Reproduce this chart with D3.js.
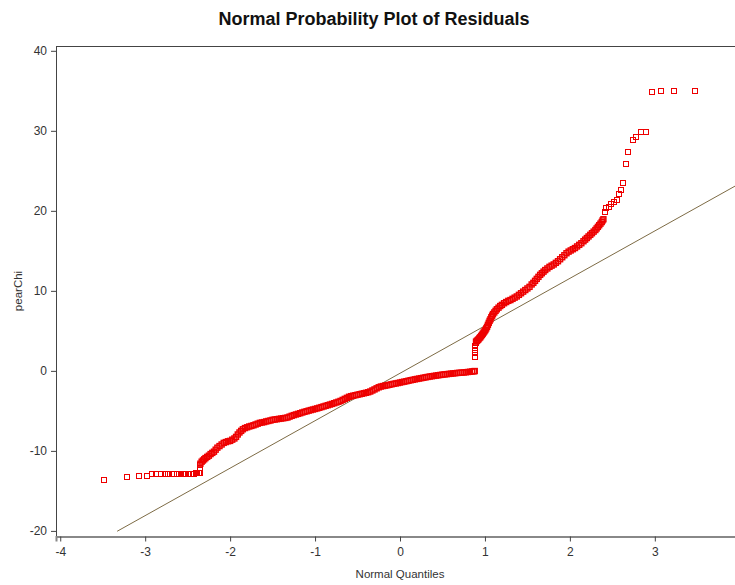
<!DOCTYPE html>
<meta charset="utf-8">
<script src="https://d3js.org/d3.v7.min.js"></script>
<style>
  body { margin: 0; background: #fff; }
  text { font-family: "Liberation Sans", Arial, sans-serif; }
</style>
<div id="chart"></div>
<script>

// normal quantile / pearChi pairs
const lowerTail = [
  [-3.48,-13.7],[-3.21,-13.3],[-3.07,-13.1],[-2.98,-13.1],
  [-2.92,-12.95],[-2.87,-12.95],[-2.81,-12.9],[-2.77,-12.9],[-2.73,-12.9],[-2.69,-12.9],
  [-2.66,-12.88],[-2.63,-12.88],[-2.60,-12.87],[-2.58,-12.87],[-2.55,-12.85],[-2.53,-12.85],
  [-2.50,-12.85],[-2.48,-12.84],[-2.46,-12.84],[-2.44,-12.83],[-2.42,-12.83],[-2.40,-12.82],
  [-2.39,-12.82],[-2.37,-12.8],[-2.36,-12.8],[-2.355,-12.2],[-2.352,-11.8]
];

const lowerBand = [
  [-2.350,-11.6],[-2.335,-11.35],[-2.320,-11.2],[-2.305,-11.05],[-2.290,-10.9],[-2.270,-10.75],
  [-2.250,-10.6],[-2.230,-10.4],[-2.210,-10.25],[-2.190,-10.1],[-2.170,-9.85],[-2.150,-9.6],
  [-2.125,-9.4],[-2.100,-9.2],[-2.075,-9.0],[-2.050,-8.9],[-2.025,-8.8],[-2.000,-8.75],
  [-1.975,-8.6],[-1.950,-8.45],[-1.930,-8.25],[-1.910,-7.95],[-1.890,-7.7],[-1.870,-7.5],
  [-1.850,-7.3],[-1.825,-7.15],[-1.800,-7.05],[-1.775,-6.95],[-1.750,-6.88],[-1.725,-6.8],
  [-1.700,-6.7],[-1.675,-6.6],[-1.650,-6.5],[-1.625,-6.45],[-1.600,-6.4],[-1.575,-6.32],
  [-1.550,-6.26],[-1.525,-6.2],[-1.500,-6.12],[-1.475,-6.08],[-1.450,-6.04],[-1.425,-6.0],
  [-1.400,-5.96],[-1.375,-5.92],[-1.350,-5.88],[-1.325,-5.83],[-1.300,-5.72],[-1.275,-5.62],
  [-1.250,-5.53],[-1.225,-5.45],[-1.200,-5.37],[-1.175,-5.29],[-1.150,-5.2],[-1.125,-5.12],
  [-1.100,-5.05],[-1.075,-4.97],[-1.050,-4.9],[-1.025,-4.83],[-1.000,-4.76],[-0.975,-4.69],
  [-0.950,-4.61],[-0.925,-4.53],[-0.900,-4.45],[-0.875,-4.37],[-0.850,-4.29],[-0.825,-4.21],
  [-0.800,-4.13],[-0.775,-4.04],[-0.750,-3.95],[-0.725,-3.86],[-0.700,-3.76],[-0.675,-3.63],
  [-0.650,-3.5],[-0.625,-3.37],[-0.600,-3.24],[-0.575,-3.16],[-0.550,-3.1],[-0.525,-3.04],
  [-0.500,-2.98],[-0.475,-2.92],[-0.450,-2.86],[-0.425,-2.8],[-0.400,-2.74],[-0.375,-2.67],
  [-0.350,-2.58],[-0.325,-2.45],[-0.300,-2.32],[-0.275,-2.18],[-0.250,-2.05],[-0.225,-1.96],
  [-0.200,-1.9],[-0.175,-1.85],[-0.150,-1.8],[-0.125,-1.74],[-0.100,-1.68],[-0.075,-1.62],
  [-0.050,-1.57],[-0.025,-1.52],[0.000,-1.46],[0.025,-1.4],[0.050,-1.35],[0.075,-1.29],
  [0.100,-1.23],[0.125,-1.17],[0.150,-1.12],[0.175,-1.06],[0.200,-1.01],[0.225,-0.96],
  [0.250,-0.91],[0.275,-0.86],[0.300,-0.81],[0.325,-0.76],[0.350,-0.71],[0.375,-0.67],
  [0.400,-0.63],[0.425,-0.59],[0.450,-0.55],[0.475,-0.51],[0.500,-0.47],[0.525,-0.44],
  [0.550,-0.41],[0.575,-0.38],[0.600,-0.35],[0.625,-0.32],[0.650,-0.29],[0.675,-0.26],
  [0.700,-0.24],[0.725,-0.22],[0.750,-0.2],[0.775,-0.17],[0.800,-0.14],[0.825,-0.11],
  [0.850,-0.08],[0.870,-0.05],[0.880,-0.02]
];

const jump = [[0.881,1.7],[0.883,2.2],[0.885,2.6],[0.887,3.1],[0.889,3.5]];

const upperBand = [
  [0.895,3.65],[0.905,3.75],[0.915,3.85],[0.925,3.95],[0.935,4.1],[0.945,4.2],[0.955,4.35],
  [0.965,4.5],[0.975,4.65],[0.985,4.8],[0.995,4.95],[1.005,5.1],[1.015,5.3],[1.025,5.5],
  [1.035,5.75],[1.045,6.0],[1.055,6.25],[1.065,6.45],[1.075,6.7],[1.085,6.9],[1.095,7.1],
  [1.110,7.3],[1.125,7.5],[1.140,7.7],[1.160,7.9],[1.180,8.1],[1.200,8.25],[1.225,8.45],
  [1.250,8.6],[1.275,8.75],[1.300,8.85],[1.325,9.0],[1.350,9.15],[1.375,9.3],[1.400,9.5],
  [1.425,9.7],[1.450,9.9],[1.475,10.1],[1.500,10.3],[1.525,10.5],[1.550,10.8],[1.570,11.0],
  [1.590,11.25],[1.610,11.5],[1.630,11.75],[1.650,12.0],[1.670,12.2],[1.690,12.4],[1.710,12.6],
  [1.735,12.8],[1.760,13.0],[1.785,13.15],[1.810,13.3],[1.835,13.5],[1.860,13.7],[1.885,13.95],
  [1.910,14.2],[1.935,14.45],[1.960,14.7],[1.985,14.9],[2.010,15.05],[2.035,15.2],[2.060,15.35],
  [2.085,15.55],[2.110,15.75],[2.135,15.95],[2.160,16.2],[2.180,16.4],[2.200,16.6],[2.220,16.8],
  [2.240,17.0],[2.260,17.2],[2.280,17.4],[2.300,17.6],[2.315,17.8],[2.330,18.0],[2.345,18.2],
  [2.360,18.4],[2.375,18.6],[2.385,18.8],[2.395,18.95]
];

const upperTail = [
  [2.41,19.9],[2.43,20.3],[2.46,20.5],[2.49,20.9],[2.52,21.1],[2.55,21.4],[2.58,22.1],
  [2.60,22.6],[2.63,23.5],[2.66,25.9],[2.69,27.3],[2.74,28.8],[2.78,29.2],[2.84,29.8],
  [2.90,29.8],[2.97,34.8],[3.07,35.0],[3.22,35.0],[3.47,35.0]
];

// reference line: pearChi = intercept + slope * quantile
const refIntercept = -0.3;
const refSlope = 5.93;
const refRange = [-3.33, 4.1];

const xTicks = [-4, -3, -2, -1, 0, 1, 2, 3];
const yTicks = [-20, -10, 0, 10, 20, 30, 40];

const W = 735, H = 585;
const plotLeft = 56, plotTop = 46, plotBottom = 536.5, plotRight = 744;

const svg = d3.select("#chart").append("svg")
  .attr("width", W).attr("height", H);

const x = d3.scaleLinear().domain([-4.05, 4.05]).range([plotLeft, plotRight]);
const y = d3.scaleLinear().domain([-20.7, 40.6]).range([plotBottom, plotTop]);

// title
svg.append("text")
  .attr("x", 374).attr("y", 25)
  .attr("text-anchor", "middle")
  .style("font-size", "18px").style("font-weight", "bold").style("fill", "#111")
  .text("Normal Probability Plot of Residuals");

// frame (top + left)
svg.append("line").attr("x1", plotLeft).attr("x2", plotRight).attr("y1", plotTop + 0.5).attr("y2", plotTop + 0.5)
  .attr("stroke", "#444");
svg.append("line").attr("x1", plotLeft + 0.5).attr("x2", plotLeft + 0.5).attr("y1", plotTop).attr("y2", plotBottom)
  .attr("stroke", "#444");

// x axis
const xAxis = svg.append("g")
  .attr("transform", "translate(0," + plotBottom + ")")
  .call(d3.axisBottom(x).tickValues(xTicks).tickSize(5).tickPadding(6).tickFormat(d => String(d)));
xAxis.select(".domain").attr("stroke", "#888").attr("stroke-width", 2);
xAxis.selectAll(".tick line").attr("stroke", "#444");
xAxis.selectAll("text").style("font-size", "12px").style("fill", "#333")
  .style("font-family", "'Liberation Sans', Arial, sans-serif");

// y axis
const yAxis = svg.append("g")
  .attr("transform", "translate(" + plotLeft + ",0)")
  .call(d3.axisLeft(y).tickValues(yTicks).tickSize(5).tickPadding(4).tickFormat(d => String(d)));
yAxis.select(".domain").remove();
yAxis.selectAll(".tick line").attr("stroke", "#444");
yAxis.selectAll("text").style("font-size", "12px").style("fill", "#333")
  .style("font-family", "'Liberation Sans', Arial, sans-serif");

// axis labels
svg.append("text")
  .attr("x", 400).attr("y", 578)
  .attr("text-anchor", "middle")
  .style("font-size", "11.5px").style("fill", "#333")
  .text("Normal Quantiles");

svg.append("text")
  .attr("transform", "translate(22,291) rotate(-90)")
  .attr("text-anchor", "middle")
  .style("font-size", "11.5px").style("fill", "#333")
  .text("pearChi");

// reference line
svg.append("line")
  .attr("x1", x(refRange[0])).attr("y1", y(refIntercept + refSlope * refRange[0]))
  .attr("x2", x(refRange[1])).attr("y2", y(refIntercept + refSlope * refRange[1]))
  .attr("stroke", "#7d6b45").attr("stroke-width", 1);

// residual markers: small open squares (tails crisp, dense bands drawn unsnapped)
function drawSquares(data, snap) {
  svg.append("g")
    .selectAll("rect")
    .data(data)
    .join("rect")
      .attr("x", d => (snap ? Math.round(x(d[0])) : x(d[0])) - 2.5)
      .attr("y", d => (snap ? Math.round(y(d[1])) : y(d[1])) - 2.5)
      .attr("width", 5)
      .attr("height", 5)
      .attr("fill", "none")
      .attr("stroke", "#ee0000")
      .attr("stroke-width", snap ? 1 : 1.4);
}
drawSquares(lowerBand, false);
drawSquares(upperBand, false);
drawSquares(lowerTail, true);
drawSquares(jump, true);
drawSquares(upperTail, true);

</script>
